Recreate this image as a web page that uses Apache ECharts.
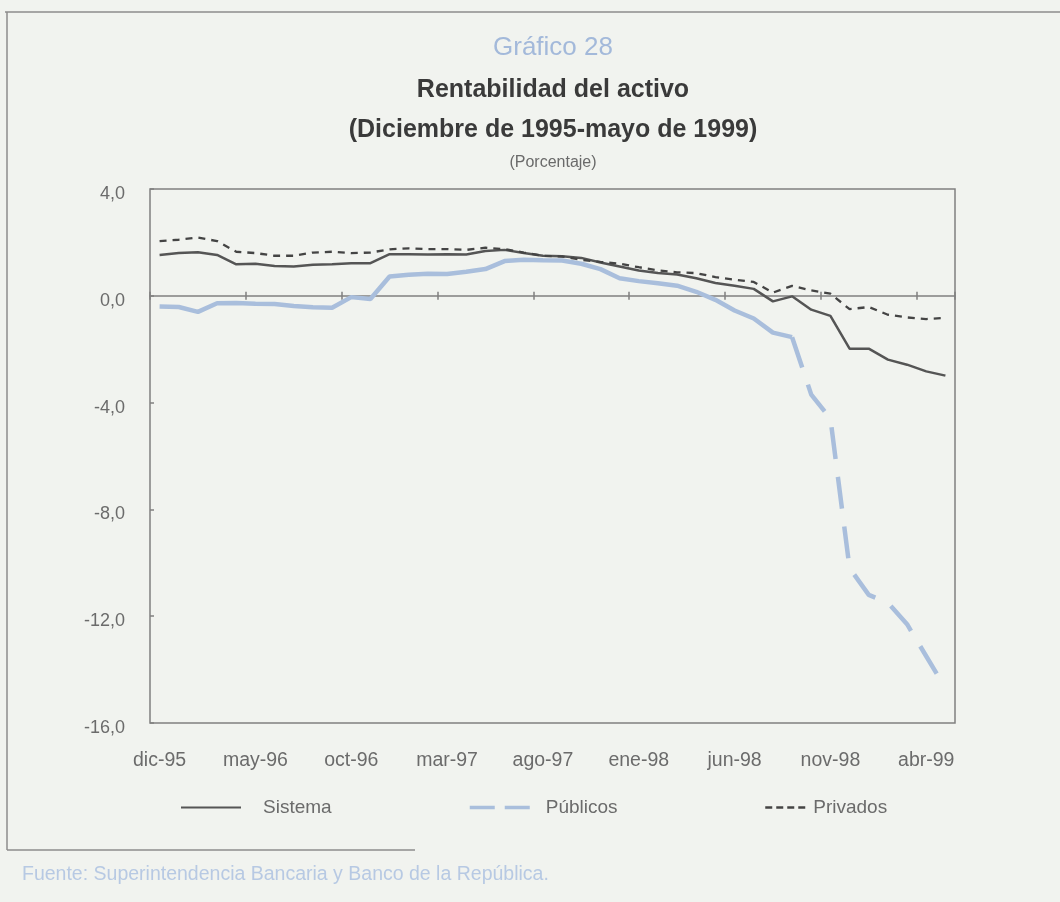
<!DOCTYPE html>
<html>
<head>
<meta charset="utf-8">
<script src="https://cdn.jsdelivr.net/npm/echarts@6/dist/echarts.min.js"></script>
<style>
html,body{margin:0;padding:0;background:#f1f3ef;}
#c{width:1060px;height:902px;}
</style>
</head>
<body>
<div id="c"></div>
<script>
const categories = ['dic-95','ene-96','feb-96','mar-96','abr-96','may-96','jun-96','jul-96','ago-96','sep-96',
  'oct-96','nov-96','dic-96','ene-97','feb-97','mar-97','abr-97','may-97','jun-97','jul-97',
  'ago-97','sep-97','oct-97','nov-97','dic-97','ene-98','feb-98','mar-98','abr-98','may-98',
  'jun-98','jul-98','ago-98','sep-98','oct-98','nov-98','dic-98','ene-99','feb-99','mar-99',
  'abr-99','may-99'];

const sistema = [1.53,1.60,1.63,1.53,1.18,1.20,1.12,1.10,1.16,1.18,
  1.22,1.22,1.56,1.56,1.55,1.56,1.55,1.68,1.72,1.60,
  1.50,1.48,1.42,1.25,1.10,0.95,0.85,0.80,0.66,0.48,
  0.38,0.26,-0.21,-0.02,-0.52,-0.75,-1.98,-1.98,-2.39,-2.58,
  -2.83,-2.99];

const publicos = [-0.40,-0.42,-0.60,-0.28,-0.27,-0.30,-0.31,-0.38,-0.43,-0.45,
  -0.05,-0.12,0.72,0.79,0.83,0.82,0.90,1.00,1.30,1.35,
  1.33,1.32,1.20,1.00,0.66,0.55,0.47,0.38,0.15,-0.15,
  -0.55,-0.85,-1.38,-1.55,-3.70,-4.60,-10.20,-11.20,-11.50,-12.30,
  -13.50,-14.70];

const privados = [2.05,2.10,2.18,2.05,1.65,1.60,1.50,1.50,1.62,1.65,
  1.60,1.62,1.74,1.78,1.75,1.75,1.72,1.80,1.75,1.62,
  1.50,1.47,1.35,1.27,1.20,1.07,0.95,0.88,0.85,0.70,
  0.60,0.52,0.12,0.37,0.20,0.08,-0.50,-0.42,-0.71,-0.81,
  -0.87,-0.83];

const titleLines = ['Gráfico 28','Rentabilidad del activo','(Diciembre de 1995-mayo de 1999)','(Porcentaje)'];
const sourceText = 'Fuente: Superintendencia Bancaria y Banco de la República.';

const PUB_SPLIT = 33;
const publicosSolid = publicos.map((v,i)=> i<=PUB_SPLIT ? v : null);
const publicosDashed = publicos.map((v,i)=> i>=PUB_SPLIT ? v : null);

const FONT = '"Liberation Sans", Arial, sans-serif';
const GRAY_TXT = '#6b6b6b';
const AXIS_C = '#808080';
const PUB_C = '#a9bedc';

const chart = echarts.init(document.getElementById('c'), null, {renderer:'canvas'});

const baseX = {
  type:'category', data:categories, boundaryGap:true, position:'bottom', gridIndex:0
};
const legendBase = {top:798, padding:0, itemHeight:14,
  itemStyle:{opacity:0, color:'transparent', borderWidth:0}};

chart.setOption({
  animation:false,
  backgroundColor:'#f1f3ef',
  grid:{left:150, right:105, top:189, bottom:179, show:true, borderColor:AXIS_C, borderWidth:1.5, backgroundColor:'transparent'},
  xAxis:[
    Object.assign({}, baseX, {
      axisLine:{show:false, onZero:false},
      axisTick:{show:false},
      axisLabel:{interval:4, margin:28, fontSize:19.5, color:GRAY_TXT, fontFamily:FONT},
      splitLine:{show:false}
    }),
    Object.assign({}, baseX, {
      axisLine:{show:true, onZero:true, onZeroAxisIndex:0, lineStyle:{color:AXIS_C, width:1.5}},
      axisTick:{show:true, interval:4, length:4, inside:false, lineStyle:{color:AXIS_C, width:1.5}},
      axisLabel:{show:false},
      splitLine:{show:false}
    }),
    Object.assign({}, baseX, {
      axisLine:{show:false, onZero:true, onZeroAxisIndex:0},
      axisTick:{show:true, interval:4, length:4, inside:true, lineStyle:{color:AXIS_C, width:1.5}},
      axisLabel:{show:false},
      splitLine:{show:false}
    })
  ],
  yAxis:{
    type:'value', min:-16, max:4, interval:4,
    axisLine:{show:false},
    axisTick:{show:true, inside:true, length:4, lineStyle:{color:AXIS_C, width:1.5}},
    splitLine:{show:false},
    axisLabel:{margin:25, fontSize:18, color:GRAY_TXT, fontFamily:FONT, verticalAlign:'top', lineHeight:10,
      formatter:v=>v.toFixed(1).replace('.',',')}
  },
  legend:[
    Object.assign({}, legendBase, {data:[{name:'Sistema'}], left:180, itemWidth:60,
      textStyle:{fontSize:19, color:GRAY_TXT, fontFamily:FONT, padding:[0,0,0,17]}}),
    Object.assign({}, legendBase, {data:[{name:'Públicos', lineStyle:{type:[25,10], width:3.5}}], left:468, itemWidth:62,
      textStyle:{fontSize:19, color:GRAY_TXT, fontFamily:FONT, padding:[0,0,0,9]}}),
    Object.assign({}, legendBase, {data:[{name:'Privados', lineStyle:{type:[7,4], width:2.5}}], left:764, itemWidth:42,
      textStyle:{fontSize:19, color:GRAY_TXT, fontFamily:FONT, padding:[0,0,0,1]}})
  ],
  series:[
    {name:'Públicos', type:'line', data:publicosDashed, xAxisIndex:0, symbol:'none', connectNulls:false,
      lineStyle:{color:PUB_C, width:4.5, type:[32,18], cap:'butt'}, itemStyle:{color:PUB_C}, z:2},
    {name:'Públicos', type:'line', data:publicosSolid, xAxisIndex:0, symbol:'none', connectNulls:false,
      lineStyle:{color:PUB_C, width:4.5, type:'solid'}, itemStyle:{color:PUB_C}, z:2},
    {name:'Sistema', type:'line', data:sistema, xAxisIndex:0, symbol:'none',
      lineStyle:{color:'#555555', width:2.5}, itemStyle:{color:'#555555'}, z:3},
    {name:'Privados', type:'line', data:privados, xAxisIndex:0, symbol:'none',
      lineStyle:{color:'#444444', width:2.3, type:[7,6]}, itemStyle:{color:'#444444'}, z:4}
  ],
  graphic:[
    {type:'line', shape:{x1:5,y1:12,x2:1060,y2:12}, style:{stroke:'#8c8c8c', lineWidth:1.5}, silent:true},
    {type:'line', shape:{x1:7,y1:12,x2:7,y2:850}, style:{stroke:'#8c8c8c', lineWidth:1.5}, silent:true},
    {type:'line', shape:{x1:7,y1:850,x2:415,y2:850}, style:{stroke:'#8c8c8c', lineWidth:1.5}, silent:true},
    {type:'text', x:553, y:48, style:{text:titleLines[0], fill:'#a3b9da', font:'26px '+FONT, align:'center', verticalAlign:'middle'}},
    {type:'text', x:553, y:90, style:{text:titleLines[1], fill:'#3a3a3a', font:'bold 25px '+FONT, align:'center', verticalAlign:'middle'}},
    {type:'text', x:553, y:130, style:{text:titleLines[2], fill:'#3a3a3a', font:'bold 25px '+FONT, align:'center', verticalAlign:'middle'}},
    {type:'text', x:553, y:163, style:{text:titleLines[3], fill:'#6a6a6a', font:'16px '+FONT, align:'center', verticalAlign:'middle'}},
    {type:'text', x:22, y:875, style:{text:sourceText, fill:'#b7c9e3', font:'19.5px '+FONT, align:'left', verticalAlign:'middle'}}
  ]
});
</script>
</body>
</html>
